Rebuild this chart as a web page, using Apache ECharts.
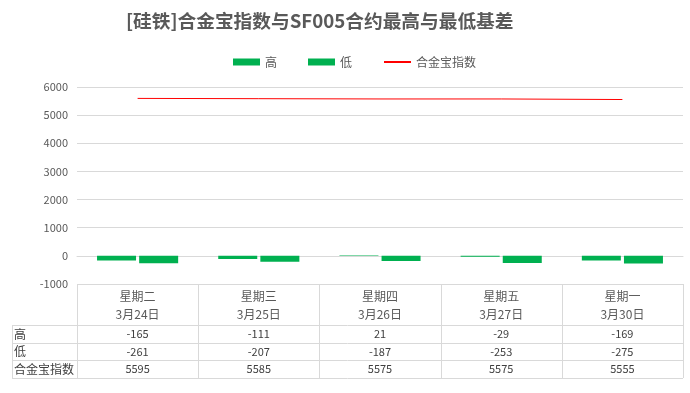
<!DOCTYPE html>
<html><head><meta charset="utf-8">
<script src="https://cdn.jsdelivr.net/npm/echarts@6/dist/echarts.min.js"></script>
<style>html,body{margin:0;padding:0;background:#fff}#c{width:690px;height:393px}</style>
</head><body><div id="c"></div>
<script>
const weekdays = ['星期二','星期三','星期四','星期五','星期一'];
const dates = ['3月24日','3月25日','3月26日','3月27日','3月30日'];
const seriesNames = ['高','低','合金宝指数'];
const highVals = [-165,-111,21,-29,-169];
const lowVals = [-261,-207,-187,-253,-275];
const indexVals = [5595,5585,5575,5575,5555];
const yTicks = {min:-1000, max:6000, interval:1000};

const FONT = '"Noto Sans CJK SC","Microsoft YaHei",sans-serif';
const GREY = '#595959';
const LINE = '#D9D9D9';
const chart = echarts.init(document.getElementById('c'));
const option = {
  animation:false,
  textStyle:{fontFamily:FONT},
  title:{text:'[硅铁]合金宝指数与SF005合约最高与最低基差', left:121, top:7,
    textStyle:{fontSize:18.7, fontWeight:'bold', color:GREY, fontFamily:FONT}},
  legend:{top:51, left:228, itemWidth:27, itemHeight:7, itemGap:31,
    textStyle:{fontSize:12, color:GREY, fontFamily:FONT},
    data:[{name:seriesNames[0], icon:'rect'},{name:seriesNames[1], icon:'rect'},
          {name:seriesNames[2], itemStyle:{opacity:0}}]},
  grid:{left:77, right:7, top:87, bottom:109},
  xAxis:{type:'category', data:weekdays,
    axisLine:{show:true, lineStyle:{color:LINE}}, axisTick:{show:false},
    axisLabel:{interval:0, margin:3, lineHeight:18, fontSize:12, color:GREY, fontFamily:FONT,
      formatter:(v,i)=>v+'\n'+dates[i]}},
  yAxis:{type:'value', min:yTicks.min, max:yTicks.max, interval:yTicks.interval,
    axisLine:{show:false}, axisTick:{show:false},
    axisLabel:{fontSize:11, color:GREY, margin:9, fontFamily:FONT, formatter:v=>String(v)},
    splitLine:{lineStyle:{color:LINE}}},
  series:[
    {name:seriesNames[0], type:'bar', data:highVals, barWidth:39, barGap:'8%', itemStyle:{color:'#00B050'}},
    {name:seriesNames[1], type:'bar', data:lowVals, barWidth:39, barGap:'8%', itemStyle:{color:'#00B050'}},
    {name:seriesNames[2], type:'line', data:indexVals, symbol:'none', lineStyle:{color:'#FF0000', width:1}, itemStyle:{color:'#FF0000'}}
  ]
};
chart.setOption(option);

// data table below the axis
const c0 = chart.convertToPixel({xAxisIndex:0}, 0);
const c1 = chart.convertToPixel({xAxisIndex:0}, 1);
const band = c1 - c0;
const x0 = c0 - band/2;
const x1 = x0 + band*weekdays.length;
const yTop = chart.convertToPixel({yAxisIndex:0}, yTicks.min);
const rows = [yTop+41, yTop+59, yTop+76, yTop+94];
const leftX = 12;
const els = [];
const ln = (xa,ya,xb,yb)=>els.push({type:'line', silent:true, shape:{x1:xa,y1:ya,x2:xb,y2:yb}, style:{stroke:LINE, lineWidth:1}});
rows.forEach(y=>ln(leftX, Math.round(y)+0.5, x1, Math.round(y)+0.5));
ln(leftX+0.5, rows[0], leftX+0.5, rows[3]);
for(let k=0;k<=weekdays.length;k++){ const x=Math.round(x0+band*k)+0.5; ln(x, yTop, x, rows[3]); }
const tableData = [highVals, lowVals, indexVals];
tableData.forEach((arr,r)=>{
  const yc = (rows[r]+rows[r+1])/2;
  els.push({type:'text', silent:true, style:{text:seriesNames[r], x:leftX+2, y:yc, verticalAlign:'middle', align:'left', fill:'#404040', font:'12px '+FONT}});
  arr.forEach((v,i)=>{
    els.push({type:'text', silent:true, style:{text:String(v), x:c0+band*i, y:yc, verticalAlign:'middle', align:'center', fill:'#404040', font:'11px '+FONT}});
  });
});
chart.setOption({graphic:els});
</script></body></html>
